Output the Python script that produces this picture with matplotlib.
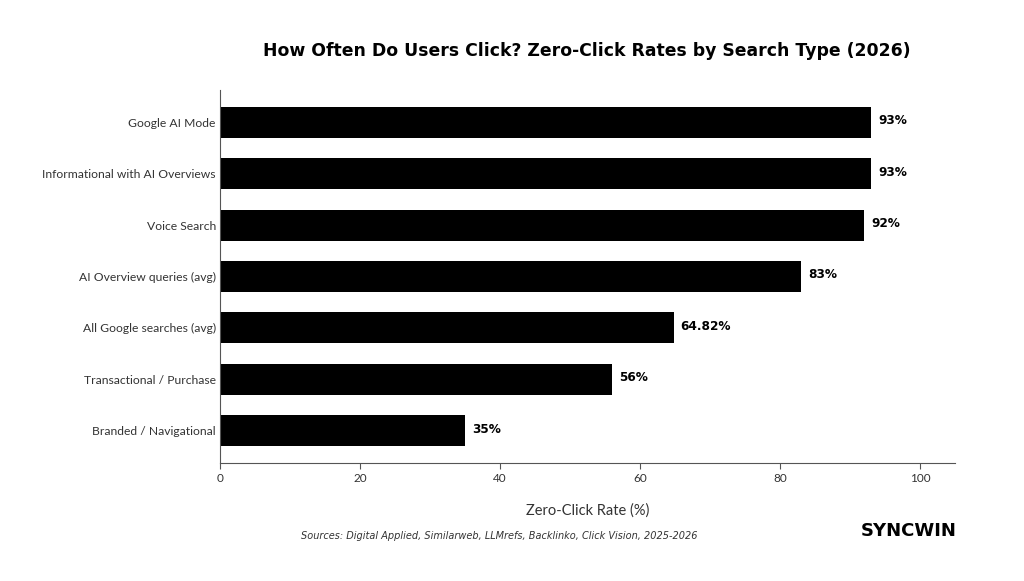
import matplotlib.pyplot as plt

categories = ['Google AI Mode', 'Informational with AI Overviews', 'Voice Search',
              'AI Overview queries (avg)', 'All Google searches (avg)',
              'Transactional / Purchase', 'Branded / Navigational']
rates = [93, 93, 92, 83, 64.82, 56, 35]
value_labels = ['93%', '93%', '92%', '83%', '64.82%', '56%', '35%']
xticks = [0, 20, 40, 60, 80, 100]

fig = plt.figure(figsize=(10.24, 5.81), dpi=100)
ax = fig.add_axes([0.2148, 0.2031, 0.7178, 0.6419])

y = list(range(len(categories)))[::-1]
ax.barh(y, rates, height=0.6, color='black')
for yi, v, lab in zip(y, rates, value_labels):
    ax.text(v + 1, yi + 0.03, lab, va='center', ha='left', fontsize=8.7, fontweight='bold')

ax.set_yticks(y)
ax.set_yticklabels(categories, fontsize=8.7, family='Lato', color='#333333')
ax.set_xticks(xticks)
ax.set_xticklabels([str(t) for t in xticks], fontsize=8.5, family='Lato', color='#333333')
ax.set_xlim(0, 105)
ax.tick_params(axis='y', length=0, pad=3)
ax.tick_params(axis='x', length=4, color='#555555')
for s in ['top', 'right']:
    ax.spines[s].set_visible(False)
for s in ['left', 'bottom']:
    ax.spines[s].set_color('#555555')

ax.set_xlabel('Zero-Click Rate (%)', fontsize=10.5, family='Lato', color='#333333', labelpad=14)
fig.text(0.573, 0.913, 'How Often Do Users Click? Zero-Click Rates by Search Type (2026)',
         ha='center', va='center', fontsize=12.4, fontweight='bold')
fig.text(0.488, 0.077, 'Sources: Digital Applied, Similarweb, LLMrefs, Backlinko, Click Vision, 2025-2026',
         ha='center', va='center', fontsize=7.0, style='italic', color='#333333')
fig.text(0.887, 0.086, 'SYNCWIN', ha='center', va='center', fontsize=13, fontweight='bold')

fig.savefig('out.png', dpi=100)
